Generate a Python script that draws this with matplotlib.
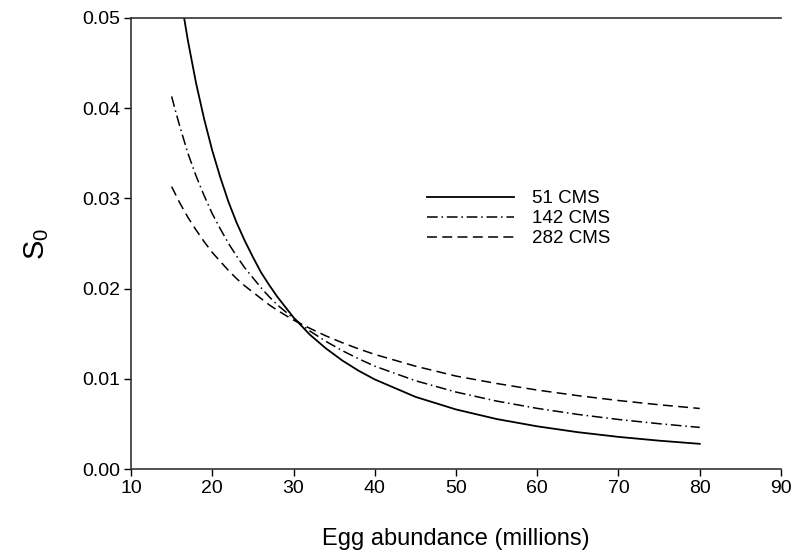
import matplotlib.pyplot as plt
import numpy as np

plt.rcParams['font.family'] = ['Liberation Sans', 'DejaVu Sans']
plt.rcParams['mathtext.default'] = 'regular'

# egg abundance (millions)
x = [15, 15.5, 16, 16.5, 17, 18, 19, 20, 21, 22, 23, 24, 25, 26, 27, 28, 30, 32, 34,
     36, 38, 40, 45, 50, 55, 60, 65, 70, 75, 80]

# S0 for each flow level
s0_51 = [0.0597, 0.0563, 0.0531, 0.0502, 0.0475, 0.0428, 0.0388, 0.0353, 0.0323, 0.0296,
         0.0273, 0.0253, 0.0235, 0.0218, 0.0204, 0.0191, 0.0168, 0.0149, 0.01336,
         0.01203, 0.0109, 0.00993, 0.00800, 0.00660, 0.00554, 0.00473, 0.00408,
         0.00356, 0.00314, 0.00279]
s0_142 = [0.0413, 0.0396, 0.0380, 0.0365, 0.0350, 0.0325, 0.0303, 0.0283, 0.0266, 0.0250,
          0.0236, 0.0223, 0.0212, 0.0201, 0.0191, 0.0182, 0.0167, 0.0153, 0.01414,
          0.01312, 0.01222, 0.0114, 0.00979, 0.00853, 0.00753, 0.00672, 0.00605,
          0.00549, 0.00502, 0.00461]
s0_282 = [0.0313, 0.0304, 0.0295, 0.0287, 0.0279, 0.0265, 0.0252, 0.0240, 0.0230, 0.0220,
          0.0211, 0.0203, 0.0196, 0.0189, 0.0182, 0.0176, 0.0165, 0.0156, 0.01475,
          0.0140, 0.01332, 0.0127, 0.0114, 0.0103, 0.00948, 0.00875, 0.00813,
          0.00759, 0.00712, 0.00671]

xticks = np.arange(10, 91, 10)
yticks = np.arange(0, 0.051, 0.01)

fig = plt.figure(figsize=(7.94, 5.6), dpi=100)
ax = fig.add_axes([0.165, 0.1625, 0.8186, 0.8055])

ax.plot(x, s0_51, color='black', lw=1.3, label='51 CMS')
ax.plot(x, s0_142, color='black', lw=1.1, dashes=(7, 2.5, 1, 2.5), label='142 CMS')
ax.plot(x, s0_282, color='black', lw=1.1, dashes=(6.5, 3.5), label='282 CMS')

ax.set_xlim(10, 90)
ax.set_ylim(0, 0.05)
ax.set_xticks(xticks)
ax.set_yticks(yticks)
ax.set_yticklabels(['%.2f' % v for v in yticks])
ax.tick_params(direction='out', length=5, width=1, pad=3, labelsize=14, colors='black')

ax.spines['right'].set_visible(False)
for s in ['left', 'bottom', 'top']:
    ax.spines[s].set_color('#333333')
    ax.spines[s].set_linewidth(1.2)

ax.set_xlabel('Egg abundance (millions)', fontsize=17, labelpad=22)
ax.set_ylabel('S$_0$', fontsize=21, labelpad=22)

ax.legend(frameon=False, loc='center left', bbox_to_anchor=(0.43, 0.555),
          handlelength=4.6, handletextpad=1.0, labelspacing=0.15, fontsize=13.5)

plt.savefig('out.png', dpi=100)
